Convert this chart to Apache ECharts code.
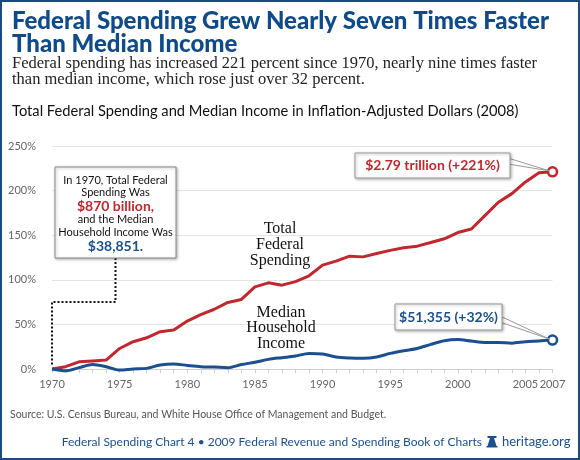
<!DOCTYPE html>
<html>
<head>
<meta charset="utf-8">
<script src="https://cdn.jsdelivr.net/npm/echarts@6/dist/echarts.min.js"></script>
<style>
  html, body { margin: 0; padding: 0; background: #fff; }
  #chart { width: 580px; height: 460px; }
</style>
</head>
<body>
<div id="chart"></div>
<script>
// categories: one per fiscal year
const years = ['1970','1971','1972','1973','1974','1975','1976','1977','1978','1979',
  '1980','1981','1982','1983','1984','1985','1986','1987','1988','1989',
  '1990','1991','1992','1993','1994','1995','1996','1997','1998','1999',
  '2000','2001','2002','2003','2004','2005','2006','2007'];
// percent change since 1970, inflation-adjusted
const spending = [0, 2.6, 8, 9, 10, 23, 30.6, 35, 41.8, 43.6,
  53.7, 61, 67, 74.6, 78, 92, 96.6, 94, 98, 104.5,
  116.4, 121, 126.5, 125.7, 129.5, 133, 136, 137.7, 141.8, 146,
  153, 157, 172, 187, 196.6, 209.7, 220, 221];
const income = [0, -2, 1.5, 5, 2.6, -1.2, 0, 0.7, 4.5, 5.6,
  4, 2.6, 2.2, 1.5, 5, 7.5, 10.8, 12.7, 14.5, 17.5,
  16.8, 13.4, 12.3, 12, 13.4, 17.5, 20.5, 23, 27.6, 31.7,
  33, 31.3, 29.8, 29.8, 29, 30.6, 31.3, 32.4];
const labelYears = ['1970','1975','1980','1985','1990','1995','2000','2005','2007'];

const RED = '#c1272d';
const BLUE = '#1b4f8f';
const TITLE_BLUE = '#0f4a8a';
const SANS = 'Lato, "Open Sans", sans-serif';
const SERIF = '"Liberation Serif", "DejaVu Serif", serif';

// hollow marker only on the last point
function withEndMarker(arr, color) {
  return arr.map((v, i) => i === arr.length - 1
    ? { value: v, symbol: 'circle', symbolSize: 9,
        itemStyle: { color: '#fff', borderColor: color, borderWidth: 2.5 } }
    : v);
}

const chart = echarts.init(document.getElementById('chart'));
chart.setOption({
  animation: false,
  grid: { left: 52, right: 27.5, top: 146, bottom: 91 },
  xAxis: {
    type: 'category',
    data: years,
    boundaryGap: false,
    axisLine: { lineStyle: { color: '#cfcfcf', width: 1 } },
    axisTick: { interval: 0, length: 4, lineStyle: { color: '#cfcfcf' } },
    axisLabel: {
      interval: (i, v) => labelYears.includes(v),
      color: '#666', fontFamily: SANS, fontSize: 11, margin: 10
    },
    splitLine: { show: false }
  },
  yAxis: {
    type: 'value',
    min: 0, max: 250, interval: 50,
    axisLine: { show: false },
    axisTick: { show: false },
    axisLabel: { formatter: '{value}%', color: '#666', fontFamily: SANS, fontSize: 11, margin: 16 },
    splitLine: { lineStyle: { color: '#e4e4e4' } }
  },
  series: [
    {
      name: 'Total Federal Spending', type: 'line', clip: false,
      data: withEndMarker(spending, RED),
      symbol: 'none', showAllSymbol: true,
      lineStyle: { color: RED, width: 3 }, z: 3
    },
    {
      name: 'Median Household Income', type: 'line', clip: false, smooth: 0.3,
      data: withEndMarker(income, BLUE),
      symbol: 'none', showAllSymbol: true,
      lineStyle: { color: BLUE, width: 3 }, z: 3
    }
  ]
});

const last = years.length - 1;
const pS = chart.convertToPixel({ seriesIndex: 0 }, [years[last], spending[last]]);
const pI = chart.convertToPixel({ seriesIndex: 1 }, [years[last], income[last]]);
const p0 = chart.convertToPixel({ seriesIndex: 0 }, [years[0], spending[0]]);

const shadow = { shadowBlur: 3, shadowOffsetX: 1, shadowOffsetY: 1, shadowColor: 'rgba(0,0,0,0.3)' };
function txt(text, x, y, font, fill, align) {
  return { type: 'text', z: 20, style: { text, x, y, font, fill, align: align || 'left', verticalAlign: 'middle' } };
}

const g = [
  { type: 'rect', z: 30, shape: { x: 1, y: 1, width: 578, height: 458 },
    style: { fill: 'none', stroke: '#1a4a80', lineWidth: 2 } },
  txt('Federal Spending Grew Nearly Seven Times Faster', 12, 21, '900 24px ' + SANS, TITLE_BLUE),
  txt('Than Median Income', 12, 44, '900 24px ' + SANS, TITLE_BLUE),
  txt('Federal spending has increased 221 percent since 1970, nearly nine times faster', 12, 64, '16.5px ' + SERIF, '#222'),
  txt('than median income, which rose just over 32 percent.', 12, 80, '16.5px ' + SERIF, '#222'),
  txt('Total Federal Spending and Median Income in Inflation-Adjusted Dollars (2008)', 12, 111, '14.7px ' + SANS, '#111'),

  // 1970 note with dotted leader to the first point
  { type: 'polyline', z: 10,
    shape: { points: [[115.5, 258], [115.5, 302], [p0[0], 302], [p0[0], p0[1] - 3]] },
    style: { stroke: '#111', lineWidth: 2, lineDash: [2, 2], fill: null } },
  { type: 'rect', z: 11, shape: { x: 55, y: 167, width: 121, height: 91 },
    style: Object.assign({ fill: '#fff', stroke: '#8a8a8a', lineWidth: 1 }, shadow) },
  txt('In 1970, Total Federal', 115.5, 180, '11px ' + SANS, '#111', 'center'),
  txt('Spending Was', 115.5, 192, '11px ' + SANS, '#111', 'center'),
  txt('$870 billion,', 115.5, 206, 'bold 14px ' + SANS, RED, 'center'),
  txt('and the Median', 115.5, 219, '11px ' + SANS, '#111', 'center'),
  txt('Household Income Was', 115.5, 232, '11px ' + SANS, '#111', 'center'),
  txt('$38,851.', 115.5, 246, 'bold 14px ' + SANS, BLUE, 'center'),

  // series name labels
  txt('Total', 280, 229, '16px ' + SERIF, '#111', 'center'),
  txt('Federal', 280, 245, '16px ' + SERIF, '#111', 'center'),
  txt('Spending', 280, 261, '16px ' + SERIF, '#111', 'center'),
  txt('Median', 281, 313, '16px ' + SERIF, '#111', 'center'),
  txt('Household', 281, 328, '16px ' + SERIF, '#111', 'center'),
  txt('Income', 281, 344, '16px ' + SERIF, '#111', 'center'),

  // end-value callouts
  { type: 'polygon', z: 10, shape: { points: [[508, 158], [pS[0] - 3, pS[1] - 1], [508, 164]] },
    style: { fill: '#fff', stroke: '#999', lineWidth: 1 } },
  { type: 'rect', z: 11, shape: { x: 355, y: 153, width: 155, height: 25 },
    style: Object.assign({ fill: '#fff', stroke: '#9a9a9a', lineWidth: 1 }, shadow) },
  txt('$2.79 trillion (+221%)', 432.5, 165.5, 'bold 14px ' + SANS, RED, 'center'),
  { type: 'polygon', z: 10, shape: { points: [[500, 316], [pI[0] - 3, pI[1] - 1], [500, 322]] },
    style: { fill: '#fff', stroke: '#999', lineWidth: 1 } },
  { type: 'rect', z: 11, shape: { x: 395, y: 304, width: 107, height: 26 },
    style: Object.assign({ fill: '#fff', stroke: '#9a9a9a', lineWidth: 1 }, shadow) },
  txt('$51,355 (+32%)', 448.5, 317, 'bold 14px ' + SANS, BLUE, 'center'),

  // footer
  txt('Source: U.S. Census Bureau, and White House Office of Management and Budget.', 10, 415, '10.5px ' + SANS, '#555'),
  txt('Federal Spending Chart 4 \u2022 2009 Federal Revenue and Spending Book of Charts', 482, 442, '12px ' + SANS, BLUE, 'right'),
  { type: 'group', z: 20, children: [
    { type: 'rect', shape: { x: 487.5, y: 436, width: 9, height: 2 }, style: { fill: BLUE } },
    { type: 'polygon', shape: { points: [[490, 438], [494, 438], [496.5, 446], [487.5, 446]] }, style: { fill: BLUE } },
    { type: 'rect', shape: { x: 486.5, y: 446, width: 11, height: 1.5 }, style: { fill: BLUE } }
  ] },
  txt('heritage.org', 502, 442, '13px ' + SANS, BLUE)
];

chart.setOption({ graphic: g });
</script>
</body>
</html>
